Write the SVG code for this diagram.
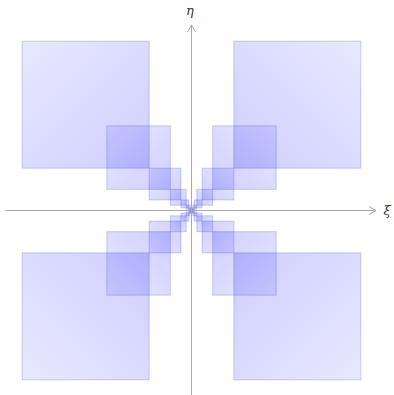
<svg xmlns="http://www.w3.org/2000/svg" width="394" height="395" viewBox="0 0 394 395">
<defs>
<linearGradient id="gTL" x1="0" y1="0" x2="1" y2="1"><stop offset="0" stop-color="#0000ff" stop-opacity="0.09"/><stop offset="1" stop-color="#0000ff" stop-opacity="0.19"/></linearGradient>
<linearGradient id="gTR" x1="1" y1="0" x2="0" y2="1"><stop offset="0" stop-color="#0000ff" stop-opacity="0.09"/><stop offset="1" stop-color="#0000ff" stop-opacity="0.19"/></linearGradient>
<linearGradient id="gBL" x1="0" y1="1" x2="1" y2="0"><stop offset="0" stop-color="#0000ff" stop-opacity="0.09"/><stop offset="1" stop-color="#0000ff" stop-opacity="0.19"/></linearGradient>
<linearGradient id="gBR" x1="1" y1="1" x2="0" y2="0"><stop offset="0" stop-color="#0000ff" stop-opacity="0.09"/><stop offset="1" stop-color="#0000ff" stop-opacity="0.19"/></linearGradient>
<marker id="arr" viewBox="0 0 10 10" refX="9" refY="5" markerWidth="10" markerHeight="10" markerUnits="userSpaceOnUse" orient="auto"><path d="M2,1 L9,5 L2,9" fill="none" stroke="#a8a8a8" stroke-width="1"/></marker>
</defs>
<style>
rect{stroke:#0000cc;stroke-opacity:0.18;stroke-width:1}
.tl{fill:url(#gTL)}.tr{fill:url(#gTR)}.bl{fill:url(#gBL)}.br{fill:url(#gBR)}
.axis{stroke:#a8a8a8;stroke-width:1;fill:none}
.lbl{font-family:"DejaVu Serif","Liberation Serif",serif;font-style:italic;font-size:13px;fill:#333}
</style>
<g id="quadrant-tl">
<rect class="tl" x="22.167" y="41.167" width="127" height="127"/>
<rect class="tl" x="106.833" y="125.833" width="63.5" height="63.5"/>
<rect class="tl" x="149.167" y="168.167" width="31.75" height="31.75"/>
<rect class="tl" x="170.333" y="189.333" width="15.875" height="15.875"/>
<rect class="tl" x="180.917" y="199.917" width="7.938" height="7.938"/>
<rect class="tl" x="186.208" y="205.208" width="3.969" height="3.969"/>
<rect class="tl" x="188.854" y="207.854" width="1.984" height="1.984"/>
<rect class="tl" x="190.177" y="209.177" width="0.992" height="0.992"/>
</g>
<g id="quadrant-tr">
<rect class="tr" x="233.833" y="41.167" width="127" height="127"/>
<rect class="tr" x="212.667" y="125.833" width="63.5" height="63.5"/>
<rect class="tr" x="202.083" y="168.167" width="31.75" height="31.75"/>
<rect class="tr" x="196.792" y="189.333" width="15.875" height="15.875"/>
<rect class="tr" x="194.146" y="199.917" width="7.938" height="7.938"/>
<rect class="tr" x="192.823" y="205.208" width="3.969" height="3.969"/>
<rect class="tr" x="192.161" y="207.854" width="1.984" height="1.984"/>
<rect class="tr" x="191.831" y="209.177" width="0.992" height="0.992"/>
</g>
<g id="quadrant-bl">
<rect class="bl" x="22.167" y="252.833" width="127" height="127"/>
<rect class="bl" x="106.833" y="231.667" width="63.5" height="63.5"/>
<rect class="bl" x="149.167" y="221.083" width="31.75" height="31.75"/>
<rect class="bl" x="170.333" y="215.792" width="15.875" height="15.875"/>
<rect class="bl" x="180.917" y="213.146" width="7.938" height="7.938"/>
<rect class="bl" x="186.208" y="211.823" width="3.969" height="3.969"/>
<rect class="bl" x="188.854" y="211.161" width="1.984" height="1.984"/>
<rect class="bl" x="190.177" y="210.831" width="0.992" height="0.992"/>
</g>
<g id="quadrant-br">
<rect class="br" x="233.833" y="252.833" width="127" height="127"/>
<rect class="br" x="212.667" y="231.667" width="63.5" height="63.5"/>
<rect class="br" x="202.083" y="221.083" width="31.75" height="31.75"/>
<rect class="br" x="196.792" y="215.792" width="15.875" height="15.875"/>
<rect class="br" x="194.146" y="213.146" width="7.938" height="7.938"/>
<rect class="br" x="192.823" y="211.823" width="3.969" height="3.969"/>
<rect class="br" x="192.161" y="211.161" width="1.984" height="1.984"/>
<rect class="br" x="191.831" y="210.831" width="0.992" height="0.992"/>
</g>
<g id="axes">
<line class="axis" x1="5.5" y1="210.5" x2="376" y2="210.5" marker-end="url(#arr)"/>
<line class="axis" x1="191.5" y1="395" x2="191.5" y2="25" marker-end="url(#arr)"/>
</g>
<text class="lbl" x="387" y="215" text-anchor="middle">ξ</text>
<text class="lbl" x="190" y="15" text-anchor="middle">η</text>
</svg>
